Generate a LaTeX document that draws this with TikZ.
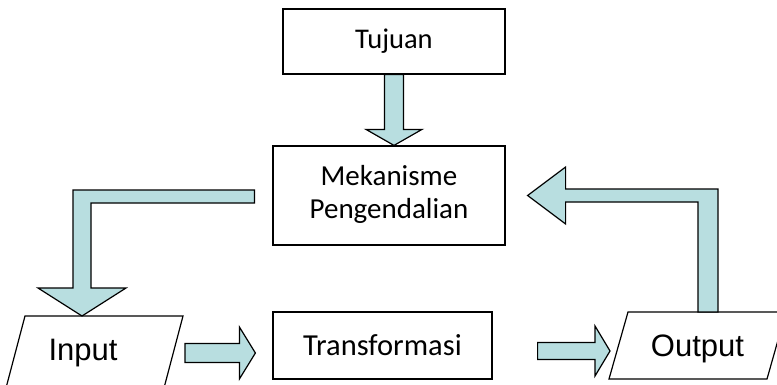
\documentclass[tikz,border=0pt]{standalone}
\usepackage{fontspec}
\setmainfont{Carlito}
\newfontfamily\arialfont{Liberation Sans}
\usetikzlibrary{calc}
\definecolor{arrowfill}{RGB}{184,222,224}
\tikzset{
  box/.style={draw=black, line width=1.2pt, fill=white, inner sep=0pt, align=center, font=\fontsize{29}{33}\selectfont},
  barrow/.style={draw=black, line width=1.2pt, fill=arrowfill, line join=miter},
  plabel/.style={inner sep=0pt, font=\arialfont\fontsize{31}{34}\selectfont},
  para/.style={draw=black, line width=1.2pt, fill=white}
}
\begin{document}
\begin{tikzpicture}[x=1pt,y=-1pt]
\path[use as bounding box, fill=white] (0,0) rectangle (777,384);
\clip (0,0) rectangle (777,384);
% boxes
\node[box, minimum width=222pt, minimum height=65pt, font=\fontsize{28.5}{31}\selectfont] (tuj) at (394,41.5) {Tujuan};
\node[box, minimum width=232pt, minimum height=99pt] (mek) at (389,195.5) {};
\node[align=center, inner sep=0pt, font=\fontsize{29}{33}\selectfont] (mektext) at (389,194) {Mekanisme\\Pengendalian};
\node[box, minimum width=219pt, minimum height=67pt, font=\fontsize{30.5}{33}\selectfont] (tra) at (382.5,345.5) {Transformasi};
% parallelograms
\draw[para] (25,316) -- (183,316) -- (164,388) -- (6,388) -- cycle;
\node[plabel] (inp) at (83,353.5) {Input};
\coordinate (inptop) at (82,316);
\draw[para] (628,312) -- (786,312) -- (767,379) -- (609,379) -- cycle;
\node[plabel] (out) at (697.5,349) {Output};
\coordinate (outtop) at (708,312);
% arrow Tujuan -> Mekanisme
\coordinate (t1) at (tuj.south |- mek.north);
\draw[barrow] ($(tuj.south)+(-9.5,0)$) -- ($(t1)+(-9.5,-16)$) -- ($(t1)+(-28,-16)$) -- (t1)
  -- ($(t1)+(28,-16)$) -- ($(t1)+(9.5,-16)$) -- ($(tuj.south)+(9.5,0)$) -- cycle;
% arrow Mekanisme -> Input
\coordinate (s2) at ($(mek.west)+(-18,1)$);
\coordinate (c2) at (82,196.5);
\coordinate (t2) at (inptop);
\draw[barrow] ($(s2)+(0,-6.5)$) -- ($(c2)+(-9,-6.5)$) -- ($(t2)+(-9,-28)$) -- ($(t2)+(-44,-28)$) -- (t2)
  -- ($(t2)+(44,-28)$) -- ($(t2)+(9,-28)$) -- ($(c2)+(9,6.5)$) -- ($(s2)+(0,6.5)$) -- cycle;
% arrow Input -> Transformasi
\coordinate (s3) at (185,353);
\coordinate (t3) at ($(tra.west)+(-17,7.5)$);
\draw[barrow] ($(s3)+(0,-9.5)$) -- ($(t3)+(-16,-9.5)$) -- ($(t3)+(-16,-26)$) -- (t3)
  -- ($(t3)+(-16,26)$) -- ($(t3)+(-16,9.5)$) -- ($(s3)+(0,9.5)$) -- cycle;
% arrow Transformasi -> Output
\coordinate (s4) at ($(tra.east)+(45,5.5)$);
\coordinate (t4) at (610,351);
\draw[barrow] ($(s4)+(0,-8.5)$) -- ($(t4)+(-15,-8.5)$) -- ($(t4)+(-15,-25)$) -- (t4)
  -- ($(t4)+(-15,25)$) -- ($(t4)+(-15,8.5)$) -- ($(s4)+(0,8.5)$) -- cycle;
% arrow Output -> Mekanisme
\coordinate (c5) at (outtop |- 0,195.5);
\coordinate (t5) at ($(mek.east)+(22,0)$);
\draw[barrow] ($(outtop)+(-10,0)$) -- ($(c5)+(-10,6.5)$) -- ($(t5)+(38,6.5)$) -- ($(t5)+(38,28.5)$) -- (t5)
  -- ($(t5)+(38,-28.5)$) -- ($(t5)+(38,-6.5)$) -- ($(c5)+(10,-6.5)$) -- ($(outtop)+(10,0)$) -- cycle;
\end{tikzpicture}
\end{document}
